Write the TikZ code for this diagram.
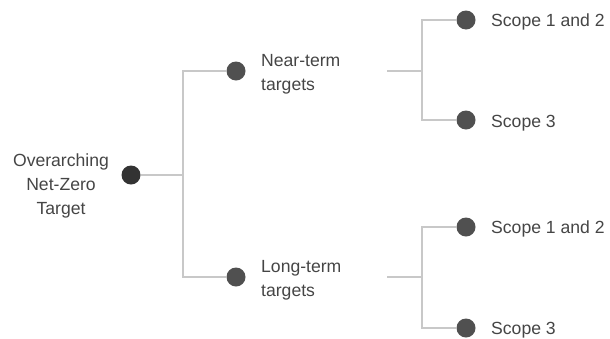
\documentclass[tikz,border=0pt]{standalone}
\usepackage{fontspec}
\setmainfont{Liberation Sans}
\definecolor{txt}{HTML}{454545}
\definecolor{dotc}{HTML}{505050}
\definecolor{rootc}{HTML}{333333}
\definecolor{linec}{HTML}{C8C8C8}
\begin{document}
\begin{tikzpicture}[x=1pt,y=-1pt,
  dot/.style={circle, fill=dotc, minimum size=19pt, inner sep=0pt},
  lbl/.style={font=\fontsize{17.6}{23.8}\selectfont, text=txt, inner sep=0pt},
  conn/.style={draw=linec, line width=1.2pt}]
\useasboundingbox (0,0) rectangle (610,338);
% dots
\node[dot, fill=rootc] (root) at (131,175) {};
\node[dot] (near) at (236,71) {};
\node[dot] (long) at (236,277) {};
\node[dot] (n12) at (466,20) {};
\node[dot] (n3) at (466,120) {};
\node[dot] (l12) at (466,227) {};
\node[dot] (l3) at (466,328) {};
% labels
\node[lbl, align=center] (troot) at (61,186) {Overarching\\Net-Zero\\Target};
\node[lbl, align=left, anchor=west] (tnear) at (261,74) {Near-term\\targets};
\node[lbl, align=left, anchor=west] (tlong) at (261,280) {Long-term\\targets};
\node[lbl, anchor=west] (tn12) at (491,22) {Scope 1 and 2};
\node[lbl, anchor=west] (tn3) at (491,123) {Scope 3};
\node[lbl, anchor=west] (tl12) at (491,229) {Scope 1 and 2};
\node[lbl, anchor=west] (tl3) at (491,330) {Scope 3};
% junctions
\coordinate (j1) at (183,175);
\coordinate (s1) at (387,71);
\coordinate (j2) at (422,71);
\coordinate (s2) at (387,277);
\coordinate (j3) at (422,277);
% connectors
\draw[conn] (root) -- (j1);
\draw[conn] (j1) |- (near);
\draw[conn] (j1) |- (long);
\draw[conn] (s1) -- (j2);
\draw[conn] (j2) |- (n12);
\draw[conn] (j2) |- (n3);
\draw[conn] (s2) -- (j3);
\draw[conn] (j3) |- (l12);
\draw[conn] (j3) |- (l3);
\end{tikzpicture}
\end{document}
